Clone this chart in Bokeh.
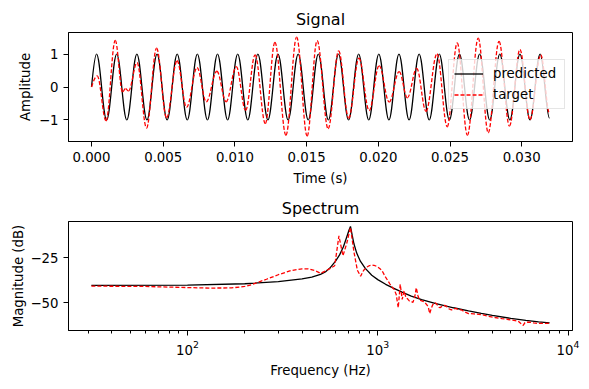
from bokeh.plotting import figure
from bokeh.layouts import column
from bokeh.models import (Range1d, FixedTicker, CustomJSTickFormatter, Legend,
                          LegendItem, ColumnDataSource, LogTickFormatter)
from bokeh.embed import file_html
from bokeh.resources import INLINE

# ---------------- data ----------------
# Signal panel: extremes (time in s, amplitude) of each curve
pred_t = [0.0, 0.000351, 0.001054, 0.001757, 0.002460, 0.003163, 0.003866, 0.004569,
          0.005272, 0.005975, 0.006678, 0.007381, 0.008084, 0.008787, 0.009490,
          0.010193, 0.010896, 0.011599, 0.012302, 0.013005, 0.013708, 0.014411,
          0.015113, 0.015816, 0.016519, 0.017222, 0.017925, 0.018628, 0.019331,
          0.020034, 0.020737, 0.021440, 0.022143, 0.022846, 0.023549, 0.024252,
          0.024955, 0.025658, 0.026361, 0.027064, 0.027767, 0.028470, 0.029173,
          0.029875, 0.030578, 0.031281, 0.031937]
pred_v = [0, 1, -1, 1, -1, 1, -1, 1, -1, 1, -1, 1, -1, 1, -1, 1, -1, 1, -1, 1, -1, 1,
          -1, 1, -1, 1, -1, 1, -1, 1, -1, 1, -1, 1, -1, 1, -1, 1, -1, 1, -1, 1, -1, 1,
          -1, 1, -0.95]

targ_t = [0.0, 0.000398, 0.001012, 0.001654, 0.002163, 0.002372, 0.002581, 0.003175,
          0.003837, 0.004535, 0.005233, 0.005965, 0.006628, 0.007361, 0.008003,
          0.008742, 0.009384, 0.010096, 0.010744, 0.011407, 0.012119, 0.012789,
          0.013556, 0.014303, 0.015035, 0.015733, 0.016500, 0.017233, 0.017931,
          0.018649, 0.019361, 0.020059, 0.020756, 0.021454, 0.022026, 0.022675,
          0.023324, 0.024091, 0.024803, 0.025501, 0.026212, 0.026966, 0.027663,
          0.028417, 0.029143, 0.029875, 0.030573, 0.031326, 0.031937]
targ_v = [0.0, 0.34, -1.03, 1.42, -0.15, -0.05, -0.12, 0.74, -1.25, 1.18, -0.94, 0.80,
          -0.62, 0.59, -0.45, 0.48, -0.45, 0.62, -0.71, 0.98, -1.11, 1.36, -1.47, 1.52,
          -1.49, 1.41, -1.27, 1.10, -0.95, 0.88, -0.72, 0.65, -0.46, 0.47, -0.33, 0.57,
          -0.74, 1.01, -1.21, 1.34, -1.47, 1.49, -1.39, 1.39, -1.19, 1.14, -0.99, 0.98,
          -0.80]

# Spectrum panel (Hz, dB)
spec_pred_f = [31.25, 100, 200, 300, 400, 450, 500, 530, 560, 600, 630, 660, 685, 705,
               718.75, 735, 750, 775, 810, 860, 930, 1000, 1100, 1200, 1350, 1500, 1700,
               2000, 2500, 3000, 3500, 4000, 5000, 6000, 7000, 8000]
spec_pred_db = [-40.4, -40.3, -39.5, -38.3, -36.8, -35.8, -34.3, -33.0, -30.8, -27.0,
                -23.5, -19.0, -14.0, -10.0, -7.7, -13.0, -17.5, -22.5, -27.0, -31.0,
                -34.8, -37.2, -39.8, -41.8, -44.3, -46.3, -48.3, -50.4, -52.8, -54.5,
                -55.9, -57.0, -58.7, -59.8, -60.6, -61.2]

spec_targ_f = [31.25, 60, 100, 130, 170, 200, 217, 260, 300, 350, 400, 430, 470, 500,
               530, 562.5, 593.75, 625, 656.25, 687.5, 718.75, 750, 781.25, 812.5,
               843.75, 875, 906.25, 937.5, 968.75, 1000, 1031.25, 1062.5, 1093.75,
               1125, 1156.25, 1187.5, 1218.75, 1250, 1281.25, 1312.5, 1343.75, 1375,
               1406.25, 1437.5, 1468.75, 1500, 1531.25, 1562.5, 1593.75, 1625, 1656.25,
               1687.5, 1718.75, 1750, 1781.25, 1812.5, 1843.75, 1875, 1906.25, 1937.5,
               1968.75, 2000, 2031.25, 2062.5, 2093.75, 2125, 2156.25, 2187.5, 2250,
               2312.5, 2375, 2437.5, 2500, 2562.5, 2625, 2700, 2760, 2850, 3000, 3200,
               3500, 3800, 4130, 4500, 4850, 5200, 5470, 5650, 5810, 5940, 6200, 6600,
               7000, 7500, 8000]
spec_targ_db = [-40.8, -41.0, -41.6, -41.9, -41.8, -41.0, -40.0, -37.0, -34.5, -32.2,
                -31.2, -31.2, -32.3, -33.7, -32.5, -31.0, -29.5, -13.0, -24.0, -17.0,
                -8.3, -22.0, -32.0, -35.3, -32.0, -30.3, -29.4, -29.2, -29.5, -30.2,
                -31.3, -33.0, -35.5, -37.5, -39.5, -41.3, -42.6, -45.4, -52.8, -39.8,
                -48.2, -43.5, -47.1, -48.0, -49.1, -49.3, -49.8, -47.0, -41.7, -46.0,
                -48.5, -48.8, -49.1, -49.5, -50.3, -51.2, -52.5, -56.0, -53.5, -51.5,
                -50.3, -50.0, -50.5, -51.5, -52.5, -52.8, -52.3, -51.7, -51.5, -52.3,
                -53.5, -54.0, -53.5, -53.2, -53.6, -54.0, -54.0, -55.0, -56.0, -56.2,
                -56.6, -57.5, -58.2, -58.8, -59.3, -59.8, -60.2, -61.5, -62.6, -61.0,
                -60.7, -61.2, -61.5, -61.4, -61.5]

time_ticks = [0.0, 0.005, 0.010, 0.015, 0.020, 0.025, 0.030]
amp_ticks = [-1, 0, 1]
db_ticks = [-50, -25]
freq_ticks = [100, 1000, 10000]
freq_minor = [30, 40, 50, 60, 70, 80, 90, 200, 300, 400, 500, 600, 700, 800, 900,
              2000, 3000, 4000, 5000, 6000, 7000, 8000, 9000]

# ---------------- styling ----------------
FONT = "DejaVu Sans"
FS = "13.3px"
K = 0.364  # control-point fraction for smooth curves between extremes


def smooth_source(t, v):
    d = dict(x0=[], y0=[], x1=[], y1=[], cx0=[], cy0=[], cx1=[], cy1=[])
    for i in range(len(t) - 1):
        dt = t[i + 1] - t[i]
        d["x0"].append(t[i]); d["y0"].append(v[i])
        d["x1"].append(t[i + 1]); d["y1"].append(v[i + 1])
        if i == 0:
            d["cx0"].append(t[i] + dt / 3); d["cy0"].append(v[i] + (v[i + 1] - v[i]) * 0.52)
            d["cx1"].append(t[i + 1] - dt / 3); d["cy1"].append(v[i + 1])
        else:
            d["cx0"].append(t[i] + K * dt); d["cy0"].append(v[i])
            d["cx1"].append(t[i + 1] - K * dt); d["cy1"].append(v[i + 1])
    return ColumnDataSource(d)


minus_fmt = CustomJSTickFormatter(code="return tick < 0 ? '\\u2212' + Math.abs(tick) : String(tick);")


def style(p):
    p.title.text_font = FONT
    p.title.text_font_size = "16px"
    p.title.text_font_style = "normal"
    p.title.align = "center"
    p.title.text_color = "black"
    p.title.standoff = 7
    p.outline_line_color = "black"
    p.outline_line_alpha = 1
    p.outline_line_width = 1
    p.xgrid.grid_line_color = None
    p.ygrid.grid_line_color = None
    p.background_fill_color = "white"
    p.border_fill_color = "white"
    for ax in [p.xaxis[0], p.yaxis[0]]:
        ax.axis_line_color = "black"
        ax.major_tick_line_color = "black"
        ax.minor_tick_line_color = "black"
        ax.major_tick_out = 5
        ax.major_tick_in = 0
        ax.minor_tick_in = 0
        ax.major_label_text_font = FONT
        ax.major_label_text_font_size = FS
        ax.major_label_text_color = "black"
        ax.axis_label_text_font = FONT
        ax.axis_label_text_font_size = FS
        ax.axis_label_text_font_style = "normal"
        ax.axis_label_text_color = "black"
        ax.major_label_standoff = 5


# ---------------- Signal ----------------
p1 = figure(width=589, height=190, output_backend="svg", toolbar_location=None,
            title="Signal", x_range=Range1d(-0.001605, 0.03354),
            y_range=Range1d(-1.66, 1.66),
            min_border_left=68, min_border_right=17, min_border_top=32,
            min_border_bottom=49)
style(p1)
r_pred = p1.bezier(x0="x0", y0="y0", x1="x1", y1="y1", cx0="cx0", cy0="cy0",
                   cx1="cx1", cy1="cy1", source=smooth_source(pred_t, pred_v),
                   line_color="black", line_width=1.3)
r_targ = p1.bezier(x0="x0", y0="y0", x1="x1", y1="y1", cx0="cx0", cy0="cy0",
                   cx1="cx1", cy1="cy1", source=smooth_source(targ_t, targ_v),
                   line_color="red", line_width=1.3, line_dash="4 2")
p1.xaxis.ticker = FixedTicker(ticks=time_ticks)
p1.xaxis.formatter = CustomJSTickFormatter(code="return tick.toFixed(3);")
p1.xaxis.minor_tick_out = 0
p1.xaxis.axis_label = "Time (s)"
p1.xaxis.axis_label_standoff = 6
p1.yaxis.ticker = FixedTicker(ticks=amp_ticks)
p1.yaxis.formatter = minus_fmt
p1.yaxis.minor_tick_out = 0
p1.yaxis.axis_label = "Amplitude"
p1.yaxis.axis_label_standoff = 3

legend = Legend(items=[LegendItem(label="predicted", renderers=[r_pred]),
                       LegendItem(label="target", renderers=[r_targ])],
                location=(380, 32), label_text_font=FONT, label_text_font_size=FS,
                label_text_color="black", glyph_width=29, glyph_height=17,
                label_height=17, label_width=66, label_standoff=10, spacing=4,
                padding=5, margin=0,
                border_line_color="#cccccc", border_line_width=1,
                background_fill_color="white", background_fill_alpha=0.8)
p1.add_layout(legend)

# ---------------- Spectrum ----------------
p2 = figure(width=589, height=198, output_backend="svg", toolbar_location=None,
            title="Spectrum", x_axis_type="log", x_range=Range1d(23.69, 10556),
            y_range=Range1d(-65.4, -5.0),
            min_border_left=68, min_border_right=17, min_border_top=31,
            min_border_bottom=58)
style(p2)
p2.line(spec_pred_f, spec_pred_db, line_color="black", line_width=1.3)
p2.line(spec_targ_f, spec_targ_db, line_color="red", line_width=1.3, line_dash="4 2")
p2.xaxis.ticker = FixedTicker(ticks=freq_ticks, minor_ticks=freq_minor)
p2.xaxis.formatter = LogTickFormatter()
p2.xaxis.minor_tick_out = 3
p2.xaxis.major_label_standoff = 4
p2.xaxis.axis_label = "Frequency (Hz)"
p2.xaxis.axis_label_standoff = 5
p2.yaxis.ticker = FixedTicker(ticks=db_ticks)
p2.yaxis.formatter = minus_fmt
p2.yaxis.minor_tick_out = 0
p2.yaxis.axis_label = "Magnitude (dB)"
p2.yaxis.axis_label_standoff = 1

layout = column(p1, p2, spacing=0)
open("out.html", "w").write(file_html(layout, INLINE))
